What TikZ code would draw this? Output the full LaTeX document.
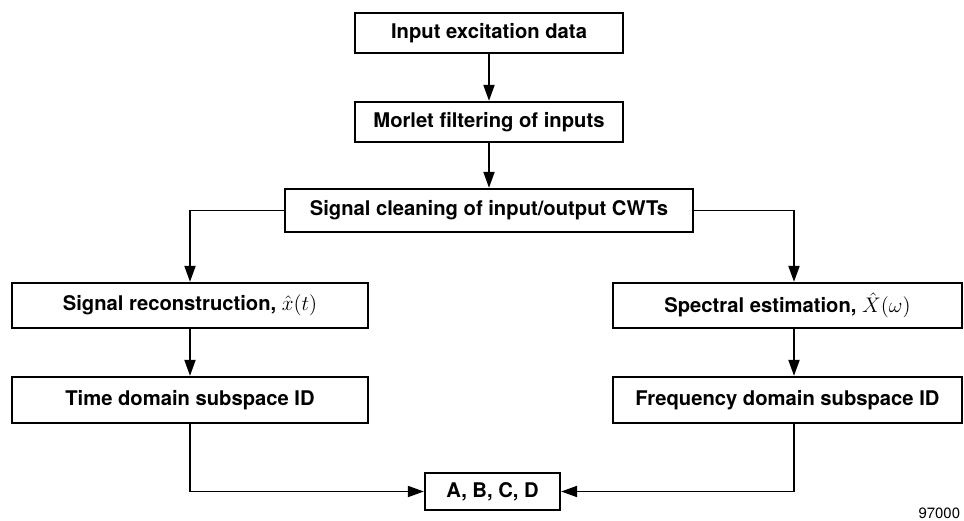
\documentclass[tikz,border=0pt]{standalone}
\usepackage{fontspec}
\setmainfont{TeX Gyre Heros}
\usetikzlibrary{arrows.meta}

\begin{document}
\begin{tikzpicture}[semithick,
    blk/.style={draw, line width=1.3pt, inner sep=0pt, minimum height=0.8cm,
                font=\fontsize{11.5}{13}\selectfont\bfseries},
    arr/.style={line width=1.1pt, -{Triangle[length=0.32cm,width=0.22cm]}},
    ln/.style={line width=1.1pt}]
  \useasboundingbox (0,0) rectangle (19.28,10.42);
  % flow down the middle
  \node[blk, minimum width=5.36cm] (in)     at (9.78,9.76) {Input excitation data};
  \node[blk, minimum width=5.36cm] (morlet) at (9.78,7.98) {Morlet filtering of inputs};
  \node[blk, minimum width=8.16cm, minimum height=0.86cm] (clean) at (9.78,6.21) {Signal cleaning of input/output CWTs};
  % two branches
  \node[blk, minimum width=7.12cm, minimum height=0.9cm] (recon) at (3.8,4.31)  {Signal reconstruction, $\hat{x}(t)$};
  \node[blk, minimum width=6.98cm, minimum height=0.9cm] (spec)  at (15.75,4.31) {Spectral estimation, $\hat{X}(\omega)$};
  \node[blk, minimum width=7.12cm, minimum height=0.92cm] (time) at (3.8,2.42)  {Time domain subspace ID};
  \node[blk, minimum width=6.98cm, minimum height=0.92cm] (freq) at (15.75,2.42) {Frequency domain subspace ID};
  \node[blk, minimum width=2.7cm, minimum height=0.74cm] (abcd) at (9.85,0.59) {A, B, C, D};
  \node[anchor=north west, inner sep=0pt, font=\fontsize{8.5}{10}\selectfont] (num) at (18.36,0.27) {97000};
  % connectors
  \draw[arr] (in) -- (morlet);
  \draw[arr] (morlet) -- (clean);
  \draw[arr] (clean.west) -| (recon.north);
  \draw[arr] (clean.east) -| ([xshift=0.13cm]spec.north);
  \draw[arr] (recon) -- (time);
  \draw[arr] ([xshift=0.13cm]spec.south) -- ([xshift=0.13cm]freq.north);
  \draw[arr] (time.south) |- (abcd.west);
  \draw[arr] ([xshift=0.13cm]freq.south) |- (abcd.east);
\end{tikzpicture}
\end{document}
